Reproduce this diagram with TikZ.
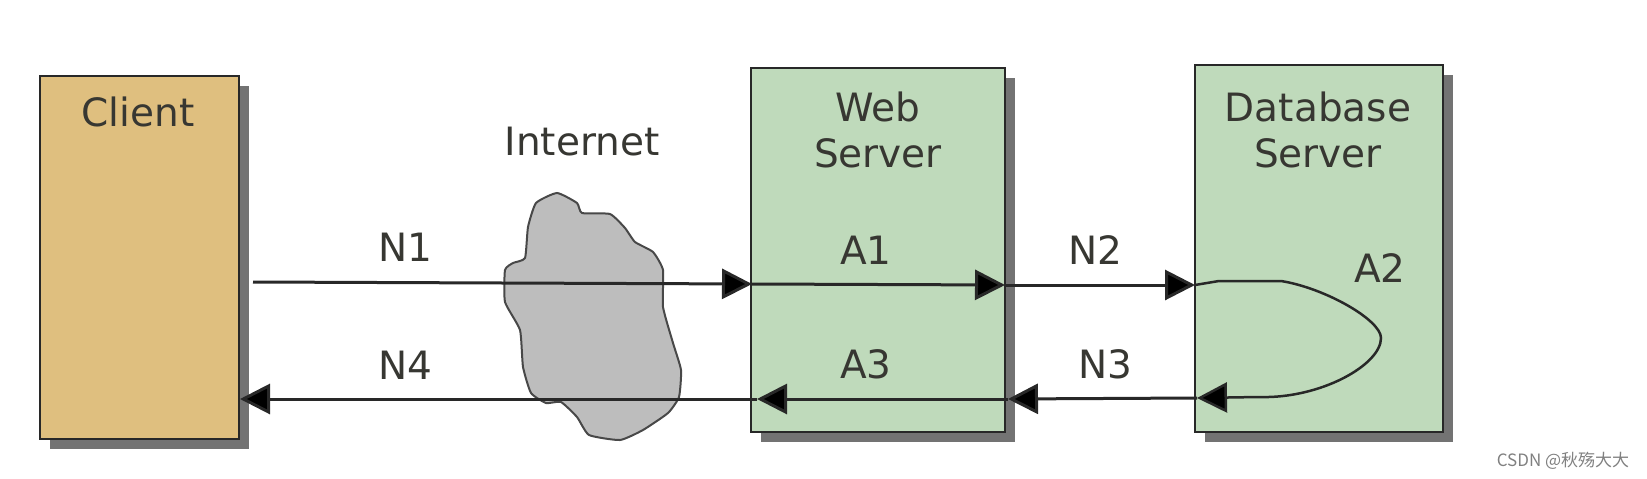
\documentclass[tikz,border=0pt]{standalone}
\usepackage{fontspec}
\setmainfont{DejaVu Sans}
\newfontfamily\cjkfont{Noto Sans CJK SC}
\usepackage{tikz}
\usetikzlibrary{arrows.meta,shadows}
\definecolor{cvclient}{RGB}{223,191,127}
\definecolor{cvserver}{RGB}{191,218,187}
\definecolor{cvcloud}{RGB}{189,189,189}
\definecolor{cvline}{RGB}{40,40,40}
\definecolor{cvtext}{RGB}{55,55,50}

\begin{document}
\begin{tikzpicture}[
  x=1pt, y=-1pt,
  box/.style={draw=cvline, line width=2.5pt, inner sep=0pt,
              general shadow={shadow xshift=10pt, shadow yshift=-10pt,
                              fill=black!55}},
  clientbox/.style={box, fill=cvclient, minimum width=199pt, minimum height=363pt},
  webbox/.style={box, fill=cvserver, minimum width=254pt, minimum height=364pt},
  dbbox/.style={box, fill=cvserver, minimum width=248pt, minimum height=367pt},
  txt/.style={inner sep=0pt, align=center, text=cvtext,
              font=\fontsize{39}{46}\selectfont},
  flow/.style={draw=cvline, line width=3pt,
               -{Triangle[length=30pt,width=30pt,fill=black]}},
  loopback/.style={flow, line width=2.5pt}
]
\useasboundingbox (0,0) rectangle (1647,479);

\node[clientbox] (client) at (139.5,257.5) {};
\node[webbox] (web) at (878,250) {};
\node[dbbox] (db) at (1319,248.5) {};

% internet cloud
\draw[draw=cvline!85, line width=2pt, fill=cvcloud] plot[smooth cycle, tension=0.3] coordinates {
  (557,193) (577,203) (582,213) (610,214) (625,228) (635,242) (653,252)
  (663,270) (663,307) (673,343) (681,370) (679,397) (668,413) (643,430)
  (620,440) (589,435) (577,417) (561,402) (546,403) (531,393) (523,367)
  (520,330) (505,302) (505,270) (513,263) (525,258) (528,227) (536,203)};

\node[txt] (clienttext) at (138,112) {Client};
\node[txt] (internettext) at (582,142) {Internet};
\node[txt] (webtext) at (878,130) {Web\\Server};
\node[txt] (dbtext) at (1318,130) {Database\\Server};
\node[txt] (n1) at (405,247) {N1};
\node[txt] (n4) at (405,365) {N4};
\node[txt] (a1) at (866,250) {A1};
\node[txt] (a3) at (866,364) {A3};
\node[txt] (n2) at (1095,250) {N2};
\node[txt] (n3) at (1105,364) {N3};
\node[txt] (a2) at (1380,268) {A2};

\coordinate (clientout) at (253,282);
\coordinate (clientin) at (240,399);
\coordinate (webinn) at (752,284);
\coordinate (weboutn) at (1005,285);
\coordinate (dbin) at (1195,285);
\coordinate (dbout) at (1197,398);
\coordinate (webouts) at (1008,399);
\coordinate (webins) at (757,399);

\draw[flow] (clientout) -- (webinn);
\draw[flow] (webinn) -- (weboutn);
\draw[flow] (weboutn) -- (dbin);
\draw[flow] (dbout) -- (webouts);
\draw[flow] (webouts) -- (webins);
\draw[flow] (webins) -- (clientin);
\draw[loopback] (dbin) -- (1219,281) -- (1281,281)
  .. controls (1325,288) and (1381,320) .. (1381,338)
  .. controls (1381,365) and (1320,399) .. (1259,397) -- (dbout);

\node[inner sep=0pt, text=black!50, font=\cjkfont\fontsize{17}{20}\selectfont]
  (mark) at (1563,461) {CSDN @秋殇大大};
\end{tikzpicture}
\end{document}
